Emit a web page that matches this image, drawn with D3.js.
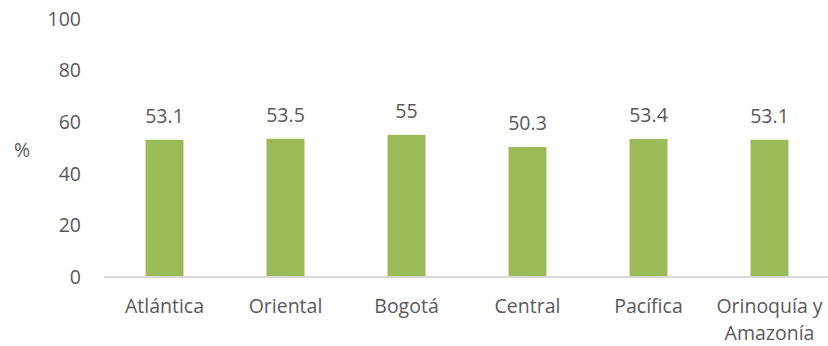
<!DOCTYPE html>
<html><head><meta charset="utf-8">
<script src="https://cdn.jsdelivr.net/npm/d3@7"></script>
<style>body{margin:0;background:#fff}svg{display:block}text{font-family:"Open Sans",sans-serif;fill:#595959}</style>
</head><body><svg id="c" width="828" height="346"></svg>
<script>
const categories = [["Atlántica"],["Oriental"],["Bogotá"],["Central"],["Pacífica"],["Orinoquía y","Amazonía"]];
const values = [53.1, 53.5, 55, 50.3, 53.4, 53.1];
const valueLabels = ["53.1","53.5","55","50.3","53.4","53.1"];
const yTicks = [0,20,40,60,80,100];
const yTitle = "%";

const svg = d3.select("#c");
const x = d3.scaleBand().domain(d3.range(categories.length)).range([104,830]).paddingInner(0.686).paddingOuter(0.343);
const y = d3.scaleLinear().domain([0,100]).range([277,18.5]);
const fs = 19.5;

svg.selectAll("rect").data(values).join("rect")
  .attr("x",(d,i)=>x(i)).attr("width",x.bandwidth())
  .attr("y",d=>y(d)).attr("height",d=>y(0)-y(d)).attr("fill","#9BBB59");

svg.append("line").attr("x1",104).attr("x2",828).attr("y1",y(0)).attr("y2",y(0)).attr("stroke","#D9D9D9").attr("stroke-width",2);

svg.selectAll(".yt").data(yTicks).join("text").attr("class","yt")
  .attr("x",81).attr("y",d=>y(d)).attr("dy","0.36em").attr("text-anchor","end").attr("font-size",fs).text(d=>d);

svg.selectAll(".vl").data(values).join("text").attr("class","vl")
  .attr("x",(d,i)=>x(i)+x.bandwidth()/2).attr("y",d=>y(d)-24).attr("dy","0.36em")
  .attr("text-anchor","middle").attr("font-size",fs).text((d,i)=>valueLabels[i]);

const xl = svg.selectAll(".xl").data(categories).join("text").attr("class","xl")
  .attr("text-anchor","middle").attr("font-size",fs);
xl.each(function(lines,i){
  d3.select(this).selectAll("tspan").data(lines).join("tspan")
    .attr("x",x(i)+x.bandwidth()/2).attr("y",(l,j)=>306+j*27).attr("dy","0.36em").text(l=>l);
});

svg.append("text").attr("x",22).attr("y",150).attr("dy","0.36em").attr("text-anchor","middle").attr("font-size",fs).text(yTitle);
</script></body></html>
